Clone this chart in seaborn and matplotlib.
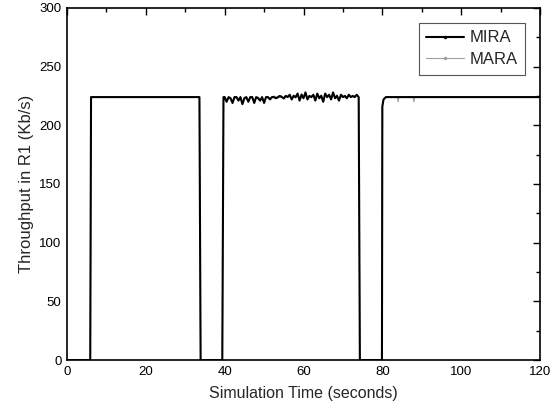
import numpy as np
import pandas as pd
import matplotlib
matplotlib.use("Agg")
import matplotlib.pyplot as plt
import seaborn as sns
from matplotlib.lines import Line2D
from matplotlib.ticker import MultipleLocator

# --- data ---
noise_time = np.arange(40.0, 74.0, 0.5)

mira_noise = [224, 220, 224, 223, 219, 224, 224, 221, 224, 218, 223, 224, 220, 224, 224,
              219, 224, 223, 221, 224, 219, 224, 224, 222, 224, 224, 223, 224, 225,
              224, 223, 225, 224, 226, 222, 225, 224, 227, 221, 226, 223, 228, 222, 225, 224,
              226, 221, 227, 223, 225, 220, 227, 224, 226, 222, 228, 223, 225, 221, 226, 224,
              225, 223, 226, 224, 225, 224, 226]
mara_noise = [224, 221, 224, 222, 220, 224, 223, 222, 224, 219, 224, 223, 221, 224, 223,
              220, 224, 224, 222, 223, 220, 224, 223, 223, 224, 225, 224, 223, 224,
              225, 222, 224, 225, 225, 223, 226, 223, 226, 222, 227, 224, 227, 223, 224, 225,
              225, 222, 226, 224, 226, 221, 226, 225, 225, 223, 227, 224, 226, 222, 225, 225,
              224, 224, 225, 225, 224, 225, 225]

mira_time_a = [0, 5.9, 6.1, 33.6, 33.9, 39.4, 39.7]
mira_val_a = [0, 0, 224, 224, 0, 0, 224]
mira_time_b = [74.0, 74.3, 79.9, 80.0, 80.3, 80.9, 120]
mira_val_b = [224, 0, 0, 216, 222, 224, 224]

mara_time_b = [74.0, 74.3, 79.9, 80.0, 80.3, 80.9, 83.8, 84.0, 84.2, 87.8, 88.0, 88.2, 120]
mara_val_b = [224, 0, 0, 216, 222, 224, 224, 220, 224, 224, 220, 224, 224]

mira_t = np.concatenate([mira_time_a, noise_time, mira_time_b])
mira_y = np.concatenate([mira_val_a, mira_noise, mira_val_b])
mara_t = np.concatenate([mira_time_a, noise_time, mara_time_b])
mara_y = np.concatenate([mira_val_a, mara_noise, mara_val_b])

sns.set_theme(style="white")
plt.rcParams['font.family'] = ['Liberation Sans', 'DejaVu Sans']

fig, ax = plt.subplots(figsize=(5.55, 4.13), dpi=100)
fig.subplots_adjust(left=0.1207, right=0.973, bottom=0.128, top=0.981)

sns.lineplot(x=mara_t, y=mara_y, ax=ax, color='#a0a0a0', linewidth=0.8,
             estimator=None, sort=False, zorder=2)
sns.lineplot(x=mira_t, y=mira_y, ax=ax, color='black', linewidth=1.5,
             estimator=None, sort=False, zorder=3)

ax.set_xlim(0, 120)
ax.set_ylim(0, 300)
ax.xaxis.set_major_locator(MultipleLocator(20))
ax.xaxis.set_minor_locator(MultipleLocator(10))
ax.yaxis.set_major_locator(MultipleLocator(50))
ax.yaxis.set_minor_locator(MultipleLocator(25))
ax.tick_params(which='both', direction='in', top=True, right=True, colors='black',
               labelsize=9.5, width=1.0)
ax.tick_params(which='major', length=5, pad=4)
ax.tick_params(which='minor', length=3)
for s in ax.spines.values():
    s.set_color('black')
    s.set_linewidth(1.2)

ax.set_xlabel('Simulation Time (seconds)', fontsize=11.5, labelpad=6)
ax.set_ylabel('Throughput in R1 (Kb/s)', fontsize=12, labelpad=4)

handles = [Line2D([], [], color='black', linewidth=1.5, marker='.', markersize=3),
           Line2D([], [], color='#a0a0a0', linewidth=0.8, marker='.', markersize=3)]
leg = ax.legend(handles, ['MIRA', 'MARA'], loc='upper right', fontsize=12,
                frameon=True, fancybox=False, edgecolor='#555555', framealpha=1,
                handlelength=2.3, handletextpad=0.3, borderaxespad=0.9,
                labelspacing=0.4, borderpad=0.45, bbox_to_anchor=(1, 1))
leg.get_frame().set_linewidth(0.8)

fig.savefig('out.png', dpi=100)
